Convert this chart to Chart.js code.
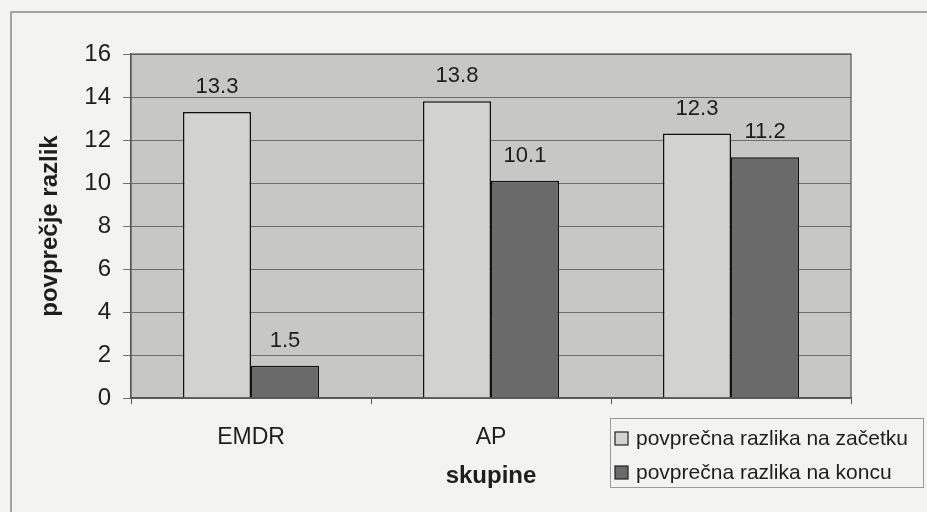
<!DOCTYPE html>
<html lang="sl">

<head>
  <meta charset="UTF-8">
  <title>povprečje razlik</title>
  <script src="https://cdn.jsdelivr.net/npm/chart.js"></script>
  <style>
    body {
      margin: 0;
      background: #f3f3f1;
    }
  </style>
</head>

<body>
  <canvas id="razlikeChart" width="927" height="512"></canvas>
  <script>
    // podatki, odčitani s slike
    const skupine = ['EMDR', 'AP', ''];
    const naZacetku = [13.3, 13.8, 12.3];
    const naKoncu = [1.5, 10.1, 11.2];
    const oznakeSerij = ['povprečna razlika na začetku', 'povprečna razlika na koncu'];
    const yTicks = [0, 2, 4, 6, 8, 10, 12, 14, 16];

    const font = 'Liberation Sans';

    // ozadje, okvir grafa in sivo ozadje risalne ploskve
    const ozadjePlugin = {
      id: 'ozadje',
      beforeDraw(chart) {
        const { ctx, chartArea: a } = chart;
        ctx.save();
        ctx.fillStyle = '#f3f3f1';
        ctx.fillRect(0, 0, chart.width, chart.height);
        ctx.strokeStyle = '#8a8a8a';
        ctx.lineWidth = 1.5;
        ctx.strokeRect(11, 12, chart.width + 10, chart.height + 10);
        ctx.fillStyle = '#c7c7c5';
        ctx.fillRect(a.left, a.top, a.right - a.left, a.bottom - a.top);
        ctx.restore();
      },
      afterDatasetsDraw(chart) {
        const { ctx, chartArea: a } = chart;
        ctx.save();
        ctx.strokeStyle = '#555';
        ctx.lineWidth = 1.2;
        ctx.strokeRect(a.left, a.top, a.right - a.left, a.bottom - a.top);
        // oznake vrednosti nad stolpci
        ctx.fillStyle = '#1e1e1e';
        ctx.font = '22px "' + font + '"';
        ctx.textAlign = 'center';
        ctx.textBaseline = 'middle';
        chart.data.datasets.forEach((ds, i) => {
          chart.getDatasetMeta(i).data.forEach((bar, j) => {
            ctx.fillText(ds.data[j].toFixed(1), bar.x, bar.y - 25);
          });
        });
        ctx.restore();
      }
    };

    // legenda spodaj desno
    const legendaPlugin = {
      id: 'legenda',
      afterDraw(chart) {
        const { ctx } = chart;
        ctx.save();
        ctx.fillStyle = '#f3f3f1';
        ctx.fillRect(610, 418, 313, 69);
        ctx.strokeStyle = '#9a9a9a';
        ctx.lineWidth = 1;
        ctx.strokeRect(610.5, 418.5, 313, 69);
        ctx.font = '21px "' + font + '"';
        ctx.textBaseline = 'middle';
        chart.data.datasets.forEach((ds, i) => {
          const y = 438 + i * 34;
          ctx.fillStyle = ds.backgroundColor;
          ctx.fillRect(615, y - 6, 13, 13);
          ctx.strokeStyle = '#222';
          ctx.lineWidth = 1.2;
          ctx.strokeRect(615, y - 6, 13, 13);
          ctx.fillStyle = '#1e1e1e';
          ctx.fillText(ds.label, 636, y + 1);
        });
        ctx.restore();
      }
    };

    new Chart(document.getElementById('razlikeChart'), {
      type: 'bar',
      data: {
        labels: skupine,
        datasets: [{
          label: oznakeSerij[0],
          data: naZacetku,
          backgroundColor: '#d3d3d1',
          borderColor: '#111',
          borderWidth: 1.5,
        }, {
          label: oznakeSerij[1],
          data: naKoncu,
          backgroundColor: '#6a6a6a',
          borderColor: '#111',
          borderWidth: 1.5,
        }]
      },
      options: {
        responsive: false,
        animation: false,
        maintainAspectRatio: false,
        layout: { padding: { left: 10, right: 76, top: 54, bottom: 0 } },
        datasets: { bar: { categoryPercentage: 0.567, barPercentage: 1 } },
        plugins: {
          legend: { display: false },
          tooltip: { enabled: false },
        },
        scales: {
          x: {
            afterFit: s => { s.height = 114; },
            grid: { drawOnChartArea: false, tickLength: 6, color: '#555', offset: true },
            border: { color: '#555', width: 1.2 },
            ticks: { color: '#1e1e1e', padding: 20, font: { family: font, size: 23 } },
            title: {
              display: true,
              text: 'skupine',
              color: '#1e1e1e',
              padding: { top: 0, bottom: 21 },
              font: { family: font, size: 24, weight: 'bold' }
            }
          },
          y: {
            min: 0,
            max: 16,
            afterFit: s => { s.width = 121; },
            afterBuildTicks: s => { s.ticks = yTicks.map(v => ({ value: v })); },
            grid: { color: '#6e6e6e', lineWidth: 1, tickLength: 8 },
            border: { color: '#555', width: 1.2 },
            ticks: { color: '#1e1e1e', padding: 12, font: { family: font, size: 24 } },
            title: {
              display: true,
              text: 'povprečje razlik',
              color: '#1e1e1e',
              padding: { top: 26, bottom: 0 },
              font: { family: font, size: 24, weight: 'bold' }
            }
          }
        }
      },
      plugins: [ozadjePlugin, legendaPlugin]
    });
  </script>
</body>

</html>
